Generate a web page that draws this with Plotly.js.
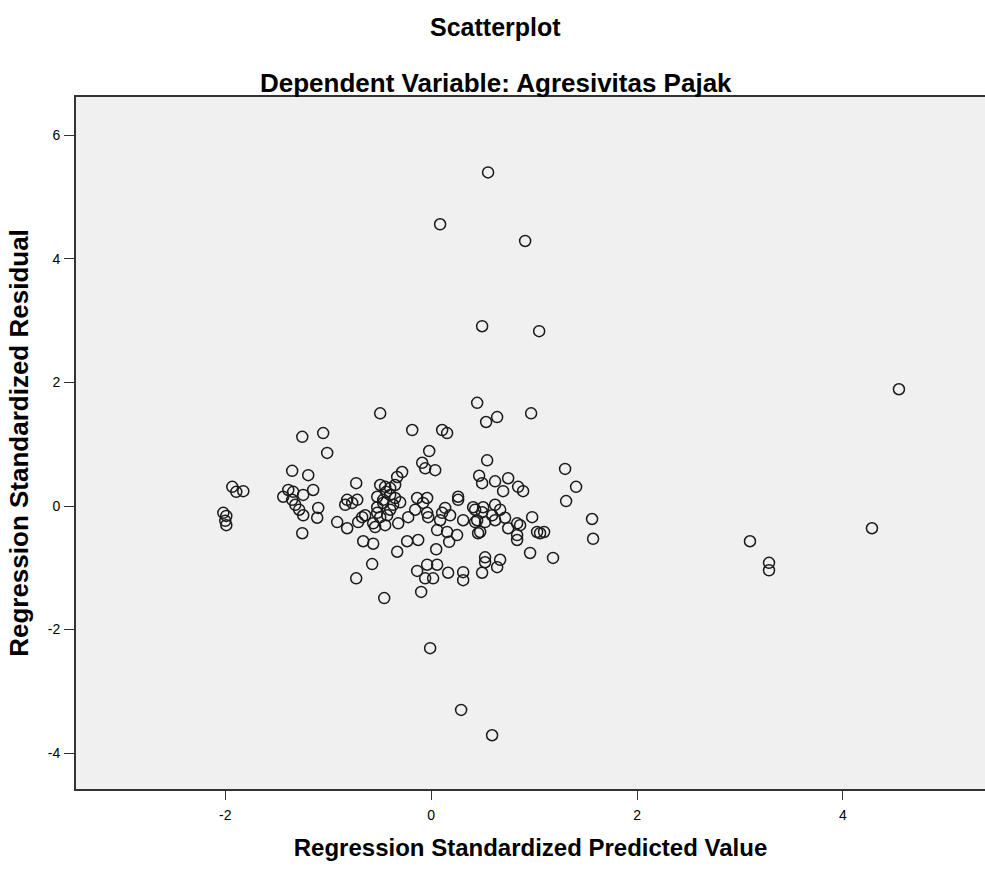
<!DOCTYPE html>
<html>
<head>
<meta charset="utf-8">
<script src="https://cdn.plot.ly/plotly-3.0.1.min.js"></script>
<style>html,body{margin:0;padding:0;background:#fff;}#chart{width:985px;height:872px;}</style>
</head>
<body>
<div id="chart"></div>
<script>
// Regression Standardized Predicted Value
const predicted = [
  0.553, 0.087, 0.913, 0.495, 1.049, 4.544, 4.282, 3.097, 3.282, 3.282, -0.010, 0.291, 0.592,
  -1.932, -1.893, -1.825, -2.019, -1.990, -2.000, -1.990,
  -1.252, -1.049, -1.010, -1.350, -1.194, -1.146, -1.437, -1.388, -1.340, -1.243, -1.350, -1.320, -1.243, -1.097, -1.107, -1.252, -1.282,
  -0.728, -0.816, -0.718, -0.835, -0.767, -0.913, -0.816, -0.709, -0.670, -0.641, -0.660, -0.563, -0.573, -0.728, -0.456, -0.495, -0.524, -0.544, -0.447,
  -0.495, -0.447, -0.398, -0.350, -0.330, -0.282, -0.524, -0.466, -0.398, -0.524, -0.466, -0.398, -0.495, -0.427, -0.563, -0.320, -0.301, -0.369, -0.437, -0.350,
  -0.184, 0.107, 0.155, -0.019, -0.087, -0.058, 0.039, -0.136, -0.039, -0.223, -0.078, -0.039, -0.029, 0.107, 0.184, 0.262, 0.311, 0.262, 0.058, 0.155, 0.252, 0.175, 0.049, -0.233, -0.126, -0.330, -0.136, -0.039, 0.058, -0.058, 0.019, 0.165, 0.311, 0.311, -0.097, 0.087, 0.136, -0.155,
  0.447, 0.534, 0.641, 0.971, 0.544, 0.466, 0.495, 0.621, 0.748, 0.699, 0.845, 0.893, 0.408, 0.447, 0.495, 0.524, 0.476, 0.427, 0.505, 0.621, 0.670, 0.427, 0.592, 0.621, 0.718, 0.748, 0.835, 0.864, 0.835, 0.835, 0.981, 1.029, 1.058, 1.097, 0.456, 0.961, 1.184, 0.524, 0.524, 0.670, 0.641, 0.495,
  1.301, 1.408, 1.311, 1.563, 1.573
];
// Regression Standardized Residual
const residual = [
  5.40, 4.56, 4.29, 2.91, 2.83, 1.89, -0.36, -0.57, -0.92, -1.04, -2.30, -3.30, -3.71,
  0.31, 0.23, 0.24, -0.11, -0.16, -0.24, -0.31,
  1.12, 1.18, 0.86, 0.57, 0.50, 0.26, 0.15, 0.26, 0.23, 0.18, 0.10, 0.02, -0.15, -0.03, -0.19, -0.44, -0.06,
  0.37, 0.10, 0.10, 0.02, 0.05, -0.26, -0.36, -0.26, -0.18, -0.15, -0.57, -0.61, -0.94, -1.17, -1.49, 1.50, -0.11, -0.34, -0.31,
  0.34, 0.31, 0.29, 0.34, 0.47, 0.55, 0.15, 0.10, 0.18, -0.02, 0.05, -0.06, -0.18, -0.15, -0.28, -0.28, 0.06, 0.02, 0.23, 0.13,
  1.23, 1.23, 1.18, 0.89, 0.70, 0.61, 0.58, 0.13, 0.13, -0.18, 0.05, -0.11, -0.18, -0.11, -0.15, 0.10, -0.23, 0.15, -0.39, -0.42, -0.47, -0.58, -0.70, -0.57, -0.55, -0.74, -1.05, -0.95, -0.95, -1.17, -1.17, -1.08, -1.07, -1.20, -1.39, -0.23, -0.03, -0.06,
  1.67, 1.36, 1.44, 1.50, 0.74, 0.49, 0.37, 0.40, 0.45, 0.24, 0.31, 0.24, -0.02, -0.23, -0.10, -0.26, -0.42, -0.06, -0.02, 0.02, -0.06, -0.26, -0.15, -0.23, -0.19, -0.36, -0.28, -0.31, -0.47, -0.55, -0.18, -0.42, -0.44, -0.42, -0.44, -0.76, -0.84, -0.83, -0.91, -0.87, -0.99, -1.08,
  0.60, 0.31, 0.08, -0.21, -0.53
];
const xTickVals = [-2, 0, 2, 4];
const xTickText = ["-2", "0", "2", "4"];
const yTickVals = [-4, -2, 0, 2, 4, 6];
const yTickText = ["-4", "-2", "0", "2", "4", "6"];
const chartTitle = "Scatterplot";
const chartSubtitle = "Dependent Variable: Agresivitas Pajak";
const xTitle = "Regression Standardized Predicted Value";
const yTitle = "Regression Standardized Residual";

const FONT = "'Liberation Sans', Arial, sans-serif";

const trace = {
  type: 'scatter', mode: 'markers',
  x: predicted, y: residual,
  marker: {symbol: 'circle-open', size: 11, color: '#1a1a1a', line: {width: 1.5, color: '#1a1a1a'}},
  hoverinfo: 'x+y'
};

const layout = {
  width: 985, height: 872,
  margin: {l: 76, r: 0, t: 97, b: 83},
  paper_bgcolor: '#ffffff',
  plot_bgcolor: '#f0f0f0',
  showlegend: false,
  font: {family: FONT, color: '#000', size: 14},
  xaxis: {
    range: [-3.45, 5.38],
    tickvals: xTickVals, ticktext: xTickText,
    showgrid: false, zeroline: false,
    showline: true, linecolor: '#333', linewidth: 2, mirror: true,
    ticks: 'outside', ticklen: 9, tickwidth: 1, tickcolor: '#333',
    ticklabelstandoff: 3,
    tickfont: {family: FONT, size: 14, color: '#000'},
    title: {text: xTitle, font: {family: FONT, size: 24, color: '#000', weight: 'bold'}, standoff: 17}
  },
  yaxis: {
    range: [-4.58, 6.62],
    tickvals: yTickVals, ticktext: yTickText,
    showgrid: false, zeroline: false,
    showline: true, linecolor: '#333', linewidth: 2,
    ticks: 'outside', ticklen: 10, tickwidth: 1, tickcolor: '#333',
    ticklabelstandoff: 1,
    tickfont: {family: FONT, size: 14, color: '#000'},
    title: {text: yTitle, font: {family: FONT, size: 26, color: '#000', weight: 'bold'}, standoff: 12}
  },
  annotations: [
    {text: chartTitle, xref: 'paper', yref: 'paper', x: 0.462, y: 1.101, xanchor: 'center', yanchor: 'middle', showarrow: false,
     font: {family: FONT, size: 25, color: '#000', weight: 'bold'}},
    {text: chartSubtitle, xref: 'paper', yref: 'paper', x: 0.462, y: 1.020, xanchor: 'center', yanchor: 'middle', showarrow: false,
     font: {family: FONT, size: 26, color: '#000', weight: 'bold'}}
  ]
};

Plotly.newPlot('chart', [trace], layout, {displayModeBar: false, staticPlot: true});
</script>
</body>
</html>
